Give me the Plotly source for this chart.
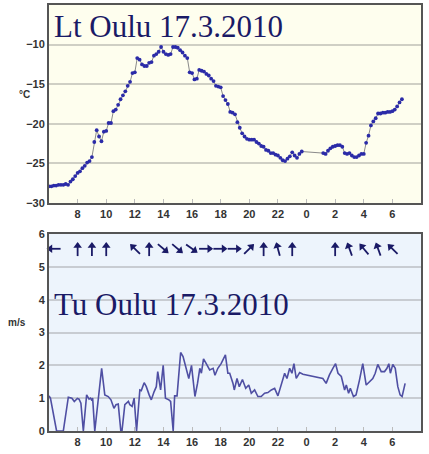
import math
import plotly.graph_objects as go

# ---------------- data ----------------
tick_hours = [8, 10, 12, 14, 16, 18, 20, 22, 24, 26, 28, 30]
tick_labels = ["8", "10", "12", "14", "16", "18", "20", "22", "0", "2", "4", "6"]

# temperature, 10-minute samples 06:00-23:40 and 01:10-06:40 (next day)
temp_part1 = [
    -27.9, -27.9, -27.8, -27.8, -27.7, -27.7,
    -27.7, -27.6, -27.7, -27.3, -27.0, -26.6,
    -26.2, -26.0, -25.6, -25.3, -24.9, -24.7,
    -24.2, -22.3, -20.8, -21.6, -22.2, -21.0,
    -20.9, -19.9, -19.9, -18.4, -18.2, -17.6,
    -16.9, -16.4, -15.9, -15.2, -14.7, -13.6,
    -13.5, -11.7, -11.9, -12.5, -12.7, -12.7,
    -12.3, -12.2, -11.4, -11.2, -10.9, -10.3,
    -10.9, -11.2, -11.3, -11.2, -10.3, -10.3,
    -10.4, -10.7, -11.0, -11.4, -11.7, -13.5,
    -13.6, -14.4, -14.3, -13.2, -13.3, -13.4,
    -13.7, -13.9, -14.3, -14.6, -15.2, -15.3,
    -15.4, -16.5, -17.0, -17.5, -18.5, -18.6,
    -18.8, -19.8, -20.5, -21.2, -21.6, -21.9,
    -22.0, -22.0, -22.0, -22.3, -22.5, -22.8,
    -22.9, -23.3, -23.4, -23.7, -23.7, -23.9,
    -24.0, -24.3, -24.6, -24.7, -24.4, -24.1,
    -23.6, -24.0, -24.3, -23.8, -23.5,
]
temp_part2 = [
    -23.7, -23.8, -23.4, -23.1, -22.9, -22.8,
    -22.7, -22.7, -22.9, -23.7, -23.8, -23.7,
    -24.0, -24.2, -24.2, -24.0, -23.8, -23.8,
    -22.4, -21.5, -20.2, -19.7, -19.3, -18.7,
    -18.7, -18.6, -18.6, -18.5, -18.5, -18.4,
    -18.2, -17.8, -17.3, -16.9,
]
temp_hours = [6 + i / 6 for i in range(len(temp_part1))] + \
             [25 + 1 / 6 + i / 6 for i in range(len(temp_part2))]
temp_values = temp_part1 + temp_part2

# wind speed (m/s)
wind_hours = [
    6.0, 6.1, 6.53, 7.0, 7.35, 7.6, 7.77, 7.98, 8.1, 8.23, 8.4, 8.63, 8.8, 8.9, 8.97,
    9.05, 9.2, 9.45, 9.68, 9.9, 10.14, 10.33, 10.54, 10.68, 10.84, 11.02, 11.1, 11.3,
    11.55, 11.65, 11.81, 11.95, 12.12, 12.35, 12.45, 12.65, 12.8, 13.0, 13.15, 13.35,
    13.5, 13.6, 13.8, 13.98, 14.14, 14.38, 14.5, 14.68, 14.78, 14.95, 15.2, 15.37,
    15.6, 15.77, 15.96, 16.2, 16.38, 16.54, 16.65, 16.8, 16.98, 17.23, 17.47, 17.6,
    17.8, 18.03, 18.33, 18.5, 18.63, 18.86, 18.95, 19.14, 19.3, 19.52, 19.75, 19.96,
    20.14, 20.37, 20.6, 20.83, 21.07, 21.3, 21.54, 21.77, 22.0, 22.24, 22.47, 22.63,
    22.82, 22.98, 23.12, 23.28, 23.52, 23.75, 25.14, 25.37, 25.6, 25.84, 26.03, 26.2,
    26.43, 26.66, 26.78, 26.94, 27.06, 27.28, 27.46, 27.7, 27.93, 28.17, 28.4, 28.63,
    28.8, 28.98, 29.22, 29.45, 29.62, 29.75, 29.86, 30.03, 30.2, 30.38, 30.54, 30.68,
    30.89,
]
wind_speed = [
    1.07, 1.0, 0.0, 0.0, 1.03, 1.0, 0.9, 0.99, 0.97, 0.85, 0.0, 1.1, 0.97, 1.0, 0.95,
    1.0, 0.0, 1.05, 1.91, 1.1, 1.05, 0.95, 0.69, 0.8, 0.82, 0.0, 0.0, 0.8,
    0.9, 0.8, 0.75, 1.0, 0.0, 1.25, 1.23, 1.47, 1.35, 1.1, 0.95, 1.2,
    1.35, 1.81, 1.25, 2.0, 1.0, 0.95, 0.9, 0.0, 1.07, 1.07, 2.39, 2.27,
    1.86, 1.6, 2.0, 1.05, 1.45, 1.91, 1.76, 2.2, 2.06, 1.86, 1.91, 1.7,
    1.91, 2.05, 2.32, 1.76, 1.76, 1.45, 1.25, 1.6, 1.35, 1.57, 1.3, 1.4,
    1.15, 1.25, 1.05, 1.05, 1.15, 1.17, 1.25, 1.3, 1.07, 1.45, 1.76, 1.6,
    1.91, 1.76, 2.05, 1.6, 1.78, 1.73, 1.6, 1.45, 1.71, 1.91, 2.05, 1.76,
    1.66, 1.25, 1.4, 1.15, 1.3, 1.05, 1.1, 1.55, 2.05, 1.4, 1.5, 1.6,
    1.76, 2.03, 1.81, 1.81, 1.91, 2.05, 1.76, 2.03, 1.91, 1.35, 1.1, 1.05,
    1.45,
]

# wind direction arrows (hour, direction the arrow points: 0 = up, 90 = right)
arrow_hours = [6.3, 8, 9, 10, 12, 13, 14, 15, 16, 17, 18, 19, 20, 21, 22, 23, 26, 27, 28, 29, 30]
arrow_dirs = [270, 0, 0, 0, 315, 0, 130, 130, 125, 90, 90, 90, 45, 0, 345, 0, 0, 340, 320, 340, 315]
arrow_level = 5.55

title_top = "Lt Oulu 17.3.2010"
title_bottom = "Tu Oulu 17.3.2010"

# ---------------- layout geometry ----------------
W, H = 429, 454
M_L, M_R, M_T, M_B = 49, 8, 5, 23
X_RANGE = [6, 32]
Y2_RANGE = [0, 6]
TOP_DOM = [0.5352, 1]
BOT_DOM = [0, 0.4624]
plot_w = W - M_L - M_R
plot_h = H - M_T - M_B
px_per_hour = plot_w / (X_RANGE[1] - X_RANGE[0])
px_per_unit2 = plot_h * (BOT_DOM[1] - BOT_DOM[0]) / (Y2_RANGE[1] - Y2_RANGE[0])

# ---------------- figure ----------------
fig = go.Figure()
fig.add_trace(go.Scatter(
    x=temp_hours, y=temp_values, mode="lines+markers",
    line=dict(color="#8a8a8a", width=1),
    marker=dict(color="#2b2ba8", size=3.8),
    xaxis="x", yaxis="y", showlegend=False,
))
fig.add_trace(go.Scatter(
    x=wind_hours, y=wind_speed, mode="lines",
    line=dict(color="#4f4fa3", width=1.6),
    xaxis="x2", yaxis="y2", showlegend=False,
))

# wind arrows: shaft + head markers, rotated by direction
shaft_x, shaft_y, head_x, head_y = [], [], [], []
for h, d in zip(arrow_hours, arrow_dirs):
    s, c = math.sin(math.radians(d)), math.cos(math.radians(d))
    shaft_x.append(h - 1.0 * s / px_per_hour)
    shaft_y.append(arrow_level - 1.0 * c / px_per_unit2)
    head_x.append(h + 3.0 * s / px_per_hour)
    head_y.append(arrow_level + 3.0 * c / px_per_unit2)

fig.add_trace(go.Scatter(
    x=shaft_x, y=shaft_y, mode="markers", xaxis="x2", yaxis="y2",
    marker=dict(symbol="line-ns", size=9, angle=arrow_dirs,
                line=dict(color="#1a1a66", width=1.8)),
    showlegend=False, cliponaxis=False,
))
fig.add_trace(go.Scatter(
    x=head_x, y=head_y, mode="markers", xaxis="x2", yaxis="y2",
    marker=dict(symbol="triangle-up", size=7.5, angle=arrow_dirs, color="#1a1a66",
                line=dict(width=0)),
    showlegend=False, cliponaxis=False,
))

tickfont = dict(family="Liberation Sans", size=11, color="#333333", weight="bold")
axis_line = dict(showline=True, mirror=True, linecolor="#555555", linewidth=2)

xcommon = dict(range=X_RANGE, tickvals=tick_hours, ticktext=tick_labels,
               ticks="inside", ticklen=4, tickcolor="#bbbbbb", showgrid=False,
               zeroline=False, tickfont=tickfont, automargin=False, **axis_line)

fig.update_layout(
    width=W, height=H,
    margin=dict(l=M_L, r=M_R, t=M_T, b=M_B),
    paper_bgcolor="white", plot_bgcolor="rgba(0,0,0,0)",
    xaxis=dict(domain=[0, 1], anchor="y", **xcommon),
    xaxis2=dict(domain=[0, 1], anchor="y2", **xcommon),
    yaxis=dict(domain=TOP_DOM, anchor="x", range=[-30, -5], dtick=5,
               showgrid=True, gridcolor="#cfcfc4", gridwidth=1.5, zeroline=False,
               ticks="", tickfont=tickfont, automargin=False, **axis_line),
    yaxis2=dict(domain=BOT_DOM, anchor="x2", range=Y2_RANGE, dtick=1,
                showgrid=True, gridcolor="#c8ccd2", gridwidth=1.5, zeroline=False,
                ticks="", tickfont=tickfont, automargin=False, **axis_line),
    shapes=[
        dict(type="rect", xref="x domain", yref="y domain", x0=0, x1=1, y0=0, y1=1,
             fillcolor="#fefeee", line=dict(width=0), layer="below"),
        dict(type="rect", xref="x2 domain", yref="y2 domain", x0=0, x1=1, y0=0, y1=1,
             fillcolor="#edf4fc", line=dict(width=0), layer="below"),
    ],
    annotations=[
        dict(text=title_top, xref="x", yref="y", x=6.2, y=-7.7, xanchor="left",
             yanchor="middle", showarrow=False,
             font=dict(family="Liberation Serif", size=31, color="#1a1a66")),
        dict(text=title_bottom, xref="x2", yref="y2", x=6.2, y=3.85, xanchor="left",
             yanchor="middle", showarrow=False,
             font=dict(family="Liberation Serif", size=31, color="#1a1a66")),
        dict(text="°C", xref="paper", yref="paper", x=-0.065, y=(431 - 94) / 426,
             xanchor="center", yanchor="middle", showarrow=False,
             font=dict(family="Liberation Sans", size=10, color="#333333", weight="bold")),
        dict(text="m/s", xref="paper", yref="paper", x=-0.086, y=(431 - 322) / 426,
             xanchor="center", yanchor="middle", showarrow=False,
             font=dict(family="Liberation Sans", size=10, color="#333333", weight="bold")),
    ],
)

fig.write_html("out.html", config={"displayModeBar": False},
               post_script="document.body.style.margin='0';document.body.style.padding='0';")
